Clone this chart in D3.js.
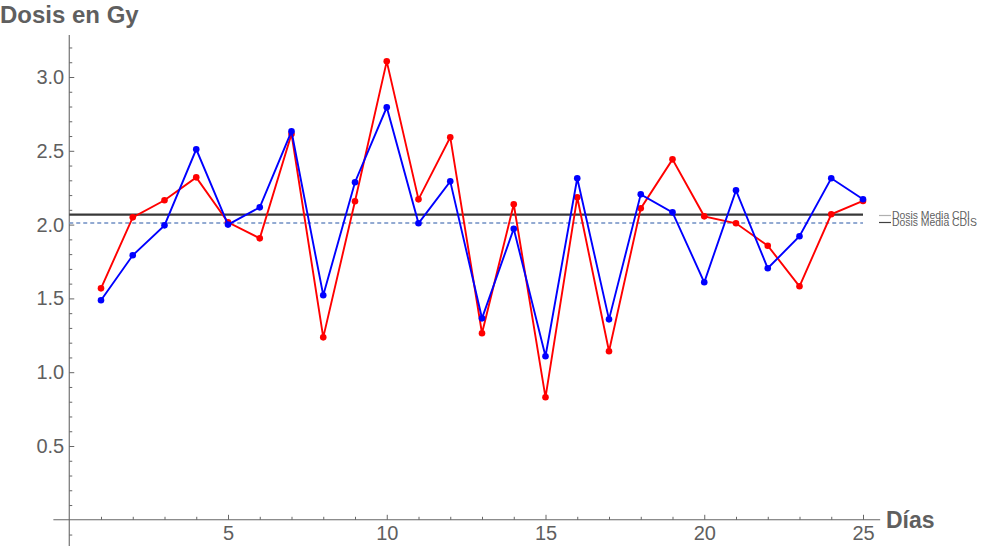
<!DOCTYPE html>
<html><head><meta charset="utf-8">
<script src="https://cdn.jsdelivr.net/npm/d3@7"></script>
<style>
body{margin:0;background:#fff;}
svg{display:block;font-family:"Liberation Sans",Arial,sans-serif;}
</style></head>
<body><svg id="c" width="990" height="549"></svg>
<script>
const days = d3.range(1, 26);
const redValues = [1.568,2.049,2.165,2.320,2.016,1.907,2.614,1.236,2.158,3.106,2.171,2.592,1.264,2.138,0.830,2.185,1.142,2.110,2.442,2.056,2.009,1.857,1.582,2.070,2.160];
const blueValues = [1.487,1.792,1.995,2.510,2.000,2.117,2.632,1.521,2.287,2.795,2.009,2.293,1.365,1.972,1.108,2.314,1.358,2.205,2.083,1.609,2.232,1.704,1.921,2.314,2.172];
const meanLines = [
  {label:"Dosis Media CDIS", value:2.067},
  {label:"Dosis Media CDI", value:2.011}
];
const xTicks = [5,10,15,20,25];
const yTicks = [0.5,1.0,1.5,2.0,2.5,3.0];
const legendItems = ["Dosis Media CDI","Dosis Media CDIS"];

const svg = d3.select("#c");
const x = d3.scaleLinear().domain([0,25]).range([69.25,863]);
const y = d3.scaleLinear().domain([0,3]).range([519.8,77]);
const axisCol = "#666";
const textCol = "#5f5f5f";

// axes domain lines
svg.append("line").attr("x1",x(-0.5)).attr("x2",x(25.54)).attr("y1",y(0)).attr("y2",y(0))
  .attr("stroke",axisCol).attr("stroke-width",1.1);
svg.append("line").attr("x1",x(0)).attr("x2",x(0)).attr("y1",y(3.285)).attr("y2",y(-0.178))
  .attr("stroke",axisCol).attr("stroke-width",1.1);

// y minor ticks
const yMinor = d3.range(-1,33).map(d=>d/10).filter(v=>Math.abs(v*2-Math.round(v*2))>1e-6);
svg.append("g").attr("transform",`translate(${x(0)},0)`)
  .call(d3.axisLeft(y).tickValues(yMinor).tickFormat("").tickSizeInner(-3).tickSizeOuter(0))
  .call(g=>{g.select(".domain").remove();g.selectAll("line").attr("stroke",axisCol);});
// y major ticks
svg.append("g").attr("transform",`translate(${x(0)},0)`)
  .call(d3.axisLeft(y).tickValues(yTicks).tickFormat(d3.format(".1f")).tickSizeInner(-5).tickSizeOuter(0).tickPadding(5))
  .call(g=>{g.select(".domain").remove();g.selectAll("line").attr("stroke",axisCol);
    g.selectAll("text").attr("fill",textCol).style("font-size","20px").style("font-family","Liberation Sans,Arial,sans-serif");});

// x minor ticks
const xMinor = d3.range(1,26).filter(d=>d%5!==0);
svg.append("g").attr("transform",`translate(0,${y(0)})`)
  .call(d3.axisBottom(x).tickValues(xMinor).tickFormat("").tickSizeInner(-3).tickSizeOuter(0))
  .call(g=>{g.select(".domain").remove();g.selectAll("line").attr("stroke",axisCol);});
svg.append("g").attr("transform",`translate(0,${y(0)})`)
  .call(d3.axisBottom(x).tickValues(xTicks).tickFormat(d3.format("d")).tickSizeInner(-5).tickSizeOuter(0).tickPadding(6))
  .call(g=>{g.select(".domain").remove();g.selectAll("line").attr("stroke",axisCol);
    g.selectAll("text").attr("fill",textCol).style("font-size","20px").style("font-family","Liberation Sans,Arial,sans-serif");});

// axis labels
svg.append("text").attr("x",0).attr("y",23).text("Dosis en Gy")
  .attr("fill",textCol).style("font-size","24px").style("font-weight","bold");
svg.append("text").attr("x",886).attr("y",527.5).text("Días")
  .attr("fill",textCol).style("font-size","23px").style("font-weight","bold");

// mean lines
svg.append("line").attr("x1",x(0)).attr("x2",x(25)).attr("y1",y(meanLines[0].value)).attr("y2",y(meanLines[0].value))
  .attr("stroke","#383838").attr("stroke-width",2.2);
svg.append("line").attr("x1",x(0)).attr("x2",x(25)).attr("y1",y(meanLines[1].value)).attr("y2",y(meanLines[1].value))
  .attr("stroke","#6f8fc4").attr("stroke-width",1.6).attr("stroke-dasharray","4,3");

// series
function drawSeries(vals,color){
  const data = days.map((d,i)=>({d,v:vals[i]}));
  svg.append("path").datum(data)
    .attr("d",d3.line().x(p=>x(p.d)).y(p=>y(p.v)))
    .attr("fill","none").attr("stroke",color).attr("stroke-width",1.9);
  svg.append("g").selectAll("circle").data(data).join("circle")
    .attr("cx",p=>x(p.d)).attr("cy",p=>y(p.v)).attr("r",3.3).attr("fill",color);
}
drawSeries(redValues,"#ff0000");
drawSeries(blueValues,"#0000ff");

// legend
const lg = svg.append("g");
const legCols = ["#b0b0b0","#404040"];
legendItems.forEach((t,i)=>{
  const yy = 215.5 + i*7;
  lg.append("line").attr("x1",879).attr("x2",891).attr("y1",yy).attr("y2",yy)
    .attr("stroke",legCols[i]).attr("stroke-width",1.2);
  lg.append("text").attr("x",892).attr("y",yy+3.5).text(t)
    .attr("fill",textCol).style("font-size","10.4px");
});
</script></body></html>
